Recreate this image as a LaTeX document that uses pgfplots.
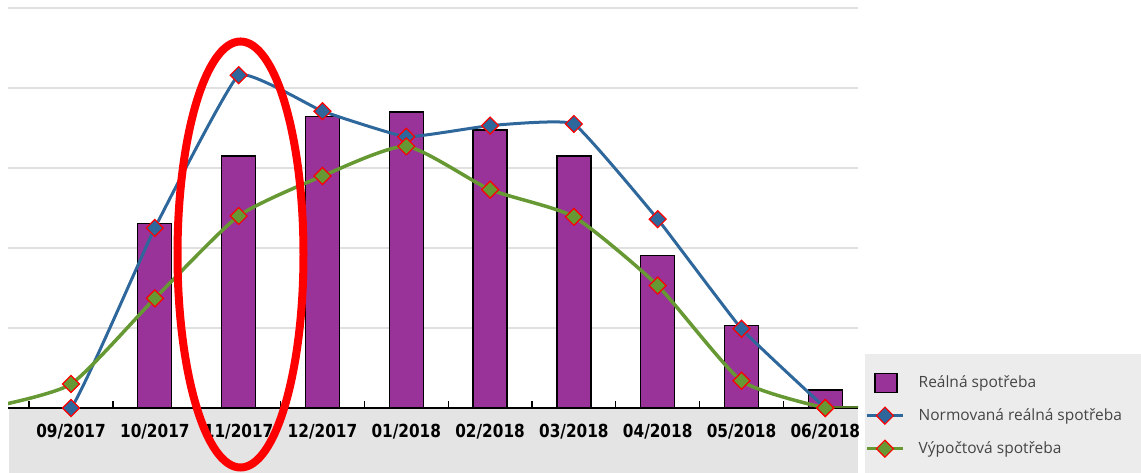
\documentclass[border=0pt]{standalone}
\usepackage{pgfplots}
\pgfplotsset{compat=1.18}
\usepackage{pgfplotstable}
\usepackage{fontspec}
\setmainfont{Open Sans}
\newfontfamily\tickfont{DejaVu Sans}[FakeStretch=0.85]
\definecolor{barpurple}{HTML}{993399}
\definecolor{lineblue}{HTML}{2E679B}
\definecolor{linegreen}{HTML}{669933}
\definecolor{bandgray}{HTML}{E4E4E4}
\definecolor{legendgray}{HTML}{ECECEC}
\definecolor{gridgray}{HTML}{E0E0E0}
\definecolor{textgray}{HTML}{454545}

\pgfplotsset{
  mylinelegend/.style={legend image code/.code={\draw[##1, mark=none] (0pt,0pt) -- (36pt,0pt); \draw[##1] plot coordinates {(18pt,0pt)};}},
  mybarlegend/.style={legend image code/.code={\draw[fill=barpurple,draw=black,line width=1.2pt] (8pt,-9.5pt) rectangle (30pt,9.5pt);}},
}

\pgfplotstableread{
x y
1 2.31
2 3.15
3 3.64
4 3.70
5 3.475
6 3.15
7 1.91
8 1.03
9 0.225
}\realna

\pgfplotstableread{
x y
-1 0
0 0
1 2.25
2 4.16
3 3.71
4 3.39
5 3.53
6 3.55
7 2.36
8 0.99
9 0
}\normovana

\pgfplotstableread{
x y
-1 0
0 0.30
1 1.37
2 2.40
3 2.90
4 3.27
5 2.73
6 2.39
7 1.53
8 0.34
9 0
}\vypoctova

\pgfplotstableread{
x y
9 0
10 0
}\vypoctovatail

\begin{document}
\begin{tikzpicture}[x=1pt,y=1pt]
\path[use as bounding box] (0,0) rectangle (1141,473);
\clip (0,0) rectangle (1141,473);
\fill[bandgray] (9,0) rectangle (858,65);
\fill[legendgray] (865,0) rectangle (1141,119);
\begin{axis}[
  at={(8pt,65pt)}, anchor=south west,
  width=850pt, height=400pt, scale only axis,
  xmin=-0.752, xmax=9.39, ymin=0, ymax=5,
  enlargelimits=false,
  axis x line*=bottom, axis y line*=left,
  y axis line style={draw=none},
  x axis line style={draw=none},
  xtick={0,...,9},
  xticklabels={09/2017,10/2017,11/2017,12/2017,01/2018,02/2018,03/2018,04/2018,05/2018,06/2018},
  minor xtick={-0.5,0.5,...,9.5},
  ytick={1,2,3,4,5}, yticklabels={},
  extra y ticks={0}, extra y tick labels={},
  extra y tick style={major grid style={black, line width=1.5pt}},
  major tick length=0pt, minor tick length=7pt, tick align=inside,
  minor tick style={black, line width=1.3pt},
  ymajorgrids, major grid style={gridgray, line width=1.8pt},
  xticklabel style={font=\tickfont\bfseries\fontsize{18}{20}\selectfont, text=black, yshift=-13pt},
  legend style={at={(axis description cs:1.0082,0.09)}, anchor=north west,
    fill=none, draw=none, font=\fontsize{15.5}{19}\selectfont, text=textgray,
    inner xsep=0pt, inner ysep=0pt, row sep=12pt,
    nodes={text height=13pt, text depth=4pt},
    /tikz/every even column/.append style={column sep=0pt}},
  legend cell align=left,
]
\addplot[ybar, bar width=34pt, fill=barpurple, draw=black, line width=1.3pt, mybarlegend]
  table[x=x,y=y] {\realna};
\addlegendentry{\hspace{12pt}Reálná spotřeba}
\addplot[lineblue, line width=3pt, smooth, tension=0.2, mark=square*,
  mark size=6pt, mark options={rotate=45, fill=lineblue, draw=red, line width=1.2pt}, mylinelegend]
  table[x=x,y=y] {\normovana};
\addlegendentry{\hspace{12pt}Normovaná reálná spotřeba}
\addplot[linegreen, line width=3.5pt, smooth, tension=0.35, mark=square*,
  mark size=6pt, mark options={rotate=45, fill=linegreen, draw=red, line width=1.2pt}, mylinelegend]
  table[x=x,y=y] {\vypoctova};
\addlegendentry{\hspace{12pt}Výpočtová spotřeba}
\addplot[linegreen!80!black, line width=3.5pt, forget plot] table[x=x,y=y] {\vypoctovatail};
\end{axis}
\draw[red, line width=8pt] (240.5,218.5) ellipse [x radius=63, y radius=213];
\end{tikzpicture}
\end{document}
